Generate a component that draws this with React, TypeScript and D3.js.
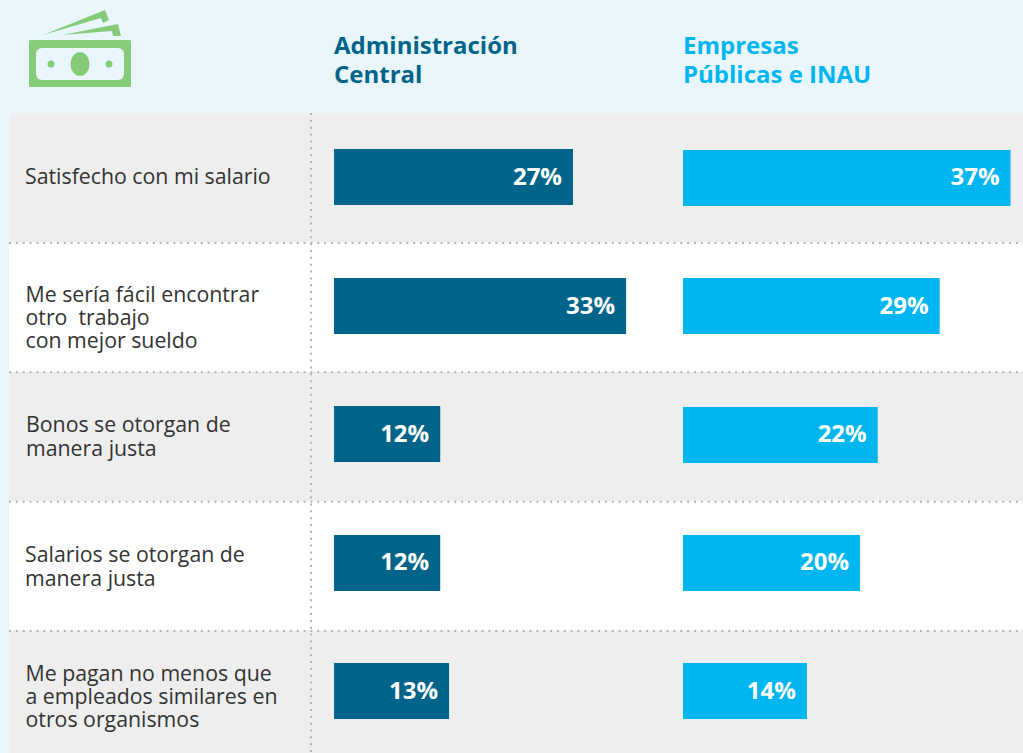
import React from 'react'
import * as d3 from 'd3'

const width = 1023
const height = 753

const categories = ['salario', 'otroTrabajo', 'bonos', 'salarios', 'pagan']
const categoryLines = [
  ['Satisfecho con mi salario'],
  ['Me sería fácil encontrar', 'otro  trabajo', 'con mejor sueldo'],
  ['Bonos se otorgan de', 'manera justa'],
  ['Salarios se otorgan de', 'manera justa'],
  ['Me pagan no menos que', 'a empleados similares en', 'otros organismos'],
]
const central = [27, 33, 12, 12, 13]
const empresas = [37, 29, 22, 20, 14]
const headerCentral = ['Administración', 'Central']
const headerEmpresas = ['Empresas', 'Públicas e INAU']

// the labels do not sit centred in their rows in the original
const labelShift = [6.5, 19, 10, 11, 12.5]
const labelLeft = [25, 25.5, 26, 25, 25.5]

const font = "'Open Sans', 'Noto Sans', sans-serif"
const darkBlue = '#00648a'
const lightBlue = '#00b6f1'
const green = '#85cb79'
const headerBg = '#e9f7fd'
const dots = '#b3b3b3'

const App = () => {
  // row backgrounds are slightly taller than the bar spacing
  const rowY = d3.scaleBand<string>().domain(categories).range([113, 760])
  const barY = d3.scaleBand<string>().domain(categories).range([113, 755.25])
  const x = d3.scaleLinear().domain([0, 37]).range([0, 327.5])
  const barHeight = 56

  const bars = (values: number[], left: number, color: string, shift: number) =>
    categories.map((c, i) => {
      const top = (barY(c) as number) + (barY.bandwidth() - barHeight) / 2
      const w = x(values[i])
      return (
        <g key={c}>
          <rect x={left} y={Math.round(top + shift)} width={w} height={barHeight} fill={color} />
          <text
            x={left + w - 11}
            y={top + 35.9}
            textAnchor='end'
            fontSize={24}
            fontWeight={700}
            fill='#fff'
          >
            {values[i]}%
          </text>
        </g>
      )
    })

  return (
    <svg
      width={width}
      height={height}
      style={{ position: 'absolute', left: 0, top: 0, display: 'block' }}
      fontFamily={font}
    >
      <rect width={width} height={height} fill={headerBg} />
      <rect x={9} y={113} width={width - 9} height={height - 113} fill='#fff' />

      {categories.map((c, i) =>
        i % 2 === 0 ? (
          <rect
            key={c}
            x={9}
            y={rowY(c)}
            width={width - 9}
            height={rowY.bandwidth()}
            fill='#eeeeee'
          />
        ) : null
      )}

      {/* dotted separators */}
      {categories.slice(1).map((c) => (
        <line
          key={c}
          x1={9}
          x2={width}
          y1={(rowY(c) as number) + 0.5}
          y2={(rowY(c) as number) + 0.5}
          stroke={dots}
          strokeWidth={2}
          strokeDasharray='2 4.85'
        />
      ))}
      <line
        x1={311}
        x2={311}
        y1={113}
        y2={height}
        stroke={dots}
        strokeWidth={2}
        strokeDasharray='2 4.85'
      />

      {/* money icon */}
      <g fill={green}>
        <path d='M43 35 L105 10 L109 20 L103 23 L101 18 Z' />
        <path d='M62 35 L118 24 L121 36 L113 36 L112 31 Z' />
        <rect x={29} y={40} width={102} height={47} rx={1.5} />
      </g>
      <rect x={36} y={48} width={88} height={32} rx={6} fill={headerBg} />
      <g fill={green}>
        <circle cx={51} cy={64} r={3.5} />
        <circle cx={109} cy={64} r={3.5} />
        <ellipse cx={80} cy={64} rx={9.5} ry={12} />
      </g>

      {headerCentral.map((t, i) => (
        <text key={t} x={334} y={54 + i * 29} fontSize={24} fontWeight={700} fill={darkBlue}>
          {t}
        </text>
      ))}
      {headerEmpresas.map((t, i) => (
        <text key={t} x={683} y={54 + i * 29} fontSize={24} fontWeight={700} fill={lightBlue}>
          {t}
        </text>
      ))}

      {categories.map((c, i) => {
        const lines = categoryLines[i]
        const lh = lines.length === 2 ? 24 : 23
        const mid = (barY(c) as number) + barY.bandwidth() / 2
        const first = mid + labelShift[i] - ((lines.length - 1) * lh) / 2
        return (
          <text key={c} fontSize={21.3} fill='#333333'>
            {lines.map((l, j) => (
              <tspan key={j} x={labelLeft[i]} y={first + j * lh} style={{ whiteSpace: 'pre' }}>
                {l}
              </tspan>
            ))}
          </text>
        )
      })}

      {bars(central, 334, darkBlue, 0)}
      {bars(empresas, 683, lightBlue, 0.4)}
    </svg>
  )
}

export default App
